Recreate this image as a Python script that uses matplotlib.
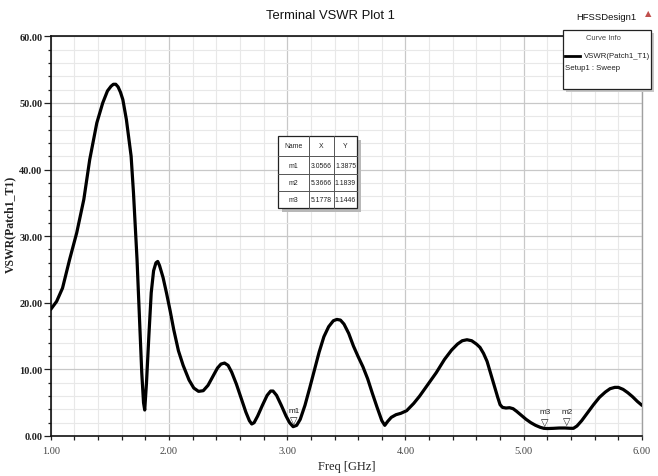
import matplotlib
matplotlib.use("Agg")
import matplotlib.pyplot as plt
from matplotlib import font_manager
from matplotlib.ticker import MultipleLocator, FormatStrFormatter
from matplotlib.patches import Rectangle

# ---------------- data ----------------
freq = [1.00, 1.05, 1.10, 1.16, 1.22, 1.28, 1.33, 1.39, 1.44, 1.48, 1.51, 1.53,
        1.55, 1.57, 1.59, 1.61, 1.64, 1.68, 1.70, 1.73, 1.75, 1.77, 1.785, 1.795,
        1.81, 1.83, 1.85, 1.87, 1.89, 1.905, 1.92, 1.95, 1.98, 2.01, 2.04, 2.08,
        2.12, 2.17, 2.21, 2.25, 2.29, 2.33, 2.37, 2.41, 2.44, 2.47, 2.50, 2.53,
        2.57, 2.61, 2.65, 2.68, 2.70, 2.72, 2.75, 2.79, 2.83, 2.86, 2.88, 2.91,
        2.95, 2.99, 3.02, 3.05, 3.08, 3.11, 3.15, 3.19, 3.23, 3.27, 3.31, 3.35,
        3.39, 3.42, 3.45, 3.48, 3.52, 3.56, 3.60, 3.64, 3.68, 3.72, 3.76, 3.80,
        3.825, 3.85, 3.88, 3.92, 3.96, 4.01, 4.07, 4.12, 4.20, 4.26, 4.33, 4.39,
        4.44, 4.48, 4.52, 4.56, 4.60, 4.63, 4.66, 4.69, 4.72, 4.75, 4.78, 4.80,
        4.82, 4.85, 4.88, 4.91, 4.94, 4.98, 5.02, 5.06, 5.10, 5.14, 5.17, 5.20,
        5.25, 5.30, 5.35, 5.39, 5.42, 5.45, 5.49, 5.54, 5.59, 5.64, 5.69, 5.73,
        5.77, 5.80, 5.84, 5.88, 5.92, 5.96, 6.00]
vswr = [19.0, 20.2, 22.2, 26.5, 30.5, 35.5, 41.5, 47.0, 50.0, 51.8, 52.5, 52.8,
        52.8, 52.4, 51.6, 50.5, 47.5, 42.0, 36.5, 26.5, 18.0, 9.5, 5.0, 3.9,
        8.0, 15.0, 21.5, 24.8, 26.0, 26.2, 25.6, 23.8, 21.4, 18.8, 16.0, 12.8,
        10.6, 8.4, 7.2, 6.7, 6.8, 7.6, 8.9, 10.2, 10.8, 10.95, 10.6, 9.6,
        7.8, 5.7, 3.6, 2.3, 1.8, 2.0, 3.0, 4.6, 6.1, 6.75, 6.75, 6.1,
        4.6, 3.0, 2.0, 1.4, 1.6, 2.5, 4.6, 7.2, 9.9, 12.6, 14.9, 16.4,
        17.3, 17.5, 17.4, 16.8, 15.4, 13.5, 11.9, 10.4, 8.6, 6.4, 4.3, 2.3,
        1.6, 2.2, 2.8, 3.2, 3.4, 3.8, 4.9, 6.0, 8.0, 9.5, 11.5, 12.9,
        13.8, 14.3, 14.45, 14.3, 13.8, 13.3, 12.4, 11.2, 9.4, 7.6, 5.8, 4.7,
        4.3, 4.2, 4.25, 4.1, 3.7, 3.1, 2.5, 2.0, 1.6, 1.3, 1.15, 1.12,
        1.15, 1.2, 1.2, 1.16, 1.15, 1.5, 2.3, 3.5, 4.7, 5.8, 6.6, 7.1,
        7.3, 7.3, 7.0, 6.5, 5.9, 5.2, 4.6]

marker_names = ["m1", "m2", "m3"]
marker_x = [3.0566, 5.3666, 5.1778]
marker_y = [1.3875, 1.1839, 1.1446]

title = "Terminal VSWR Plot 1"
design = "HFSSDesign1"
curve_name = "VSWR(Patch1_T1)"
setup_name = "Setup1 : Sweep"

# ---------------- fonts ----------------
names = {f.name for f in font_manager.fontManager.ttflist}
narrow = "Liberation Sans Narrow" if "Liberation Sans Narrow" in names else "Liberation Sans"
nscale = 1.0 if narrow == "Liberation Sans Narrow" else 0.85
serif = "Liberation Serif"

fig = plt.figure(figsize=(6.58, 4.77), dpi=100)
ax = fig.add_axes([50.7 / 658, 40 / 477, (642 - 50.7) / 658, (437 - 37.3) / 477])

ax.plot(freq, vswr, color="black", lw=2.3, solid_joinstyle="round",
        solid_capstyle="round", zorder=3)

ax.set_xlim(1.0, 6.0)
ax.set_ylim(0.0, 60.0)
ax.xaxis.set_major_locator(MultipleLocator(1.0))
ax.xaxis.set_minor_locator(MultipleLocator(0.2))
ax.yaxis.set_major_locator(MultipleLocator(10.0))
ax.yaxis.set_minor_locator(MultipleLocator(2.0))
ax.xaxis.set_major_formatter(FormatStrFormatter("%.2f"))
ax.yaxis.set_major_formatter(FormatStrFormatter("%.2f"))

ax.grid(which="major", color="#c8c8c8", lw=0.9, zorder=0)
ax.grid(which="minor", color="#e8e8e8", lw=0.8, zorder=0)
ax.set_axisbelow(True)

ax.tick_params(axis="both", which="both", direction="out", color="#222222", width=0.9)
ax.tick_params(axis="y", which="major", length=5, pad=1)
ax.tick_params(axis="y", which="minor", length=2.5)
ax.tick_params(axis="x", which="major", length=3, pad=4)
ax.tick_params(axis="x", which="minor", length=3)
ax.tick_params(top=False, right=False)

for lab in ax.get_yticklabels():
    lab.set_fontfamily(serif)
    lab.set_fontweight("bold")
    lab.set_fontsize(7.5)
    lab.set_color("#222222")
for lab in ax.get_xticklabels():
    lab.set_fontfamily(serif)
    lab.set_fontsize(7.5)
    lab.set_color("#444444")

for s in ["left", "bottom", "top"]:
    ax.spines[s].set_color("#111111")
    ax.spines[s].set_linewidth(1.2)
ax.spines["right"].set_color("#a0a0a0")
ax.spines["right"].set_linewidth(1.0)

ax.set_xlabel("Freq [GHz]", fontfamily=serif, fontsize=9, color="#222222", labelpad=4)
fig.text(10 / 658, 1 - 224 / 477, curve_name, rotation=90, ha="center", va="center",
         fontfamily=serif, fontweight="bold", fontsize=8.5, color="#222222")

# title and design name
fig.text(330 / 658, 1 - 16 / 477, title, ha="center", va="center",
         fontfamily=narrow, fontsize=11 * nscale, color="#111111")
fig.text(606 / 658, 1 - 17 / 477, design, ha="center", va="center",
         fontfamily=narrow, fontsize=8 * nscale, color="#111111")
fig.text(648 / 658, 1 - 14 / 477, "\u25B2", ha="center", va="center",
         fontfamily="DejaVu Sans", fontsize=6, color="#c0504d")

# markers on the curve
for n, mx, my in zip(marker_names, marker_x, marker_y):
    ax.annotate("\u25BD", (mx, my), xytext=(0, 5), textcoords="offset points",
                ha="center", va="center", fontsize=7, fontfamily="DejaVu Sans",
                color="#222222", zorder=5)
    ax.annotate(n, (mx, my), xytext=(0, 12), textcoords="offset points",
                ha="center", va="center", fontsize=6 * nscale + 0.8,
                fontfamily=narrow, color="#222222", zorder=5)

# marker table (figure pixel coordinates)
def px(x, y):
    return x / 658, 1 - y / 477

tx0, tx1, ty0, ty1 = 278, 357, 137, 209
col_x = [278, 309, 334, 357]
row_y = [137, 157, 175, 192, 209]
fig.patches.append(Rectangle(px(tx0 + 4, ty1 + 4), (tx1 - tx0) / 658, (ty1 - ty0) / 477,
                             transform=fig.transFigure, facecolor="#b8b8b8",
                             edgecolor="none", zorder=6))
fig.patches.append(Rectangle(px(tx0, ty1), (tx1 - tx0) / 658, (ty1 - ty0) / 477,
                             transform=fig.transFigure, facecolor="white",
                             edgecolor="#222222", lw=0.9, zorder=7))
for cx in col_x[1:-1]:
    fig.add_artist(plt.Line2D([cx / 658, cx / 658], [1 - ty0 / 477, 1 - ty1 / 477],
                              transform=fig.transFigure, color="#555555", lw=0.7, zorder=8))
for ry in row_y[1:-1]:
    fig.add_artist(plt.Line2D([tx0 / 658, tx1 / 658], [1 - ry / 477, 1 - ry / 477],
                              transform=fig.transFigure, color="#555555", lw=0.7, zorder=8))
table_rows = [["Name", "X", "Y"]] + [[n, "%.4f" % x, "%.4f" % y]
                                     for n, x, y in zip(marker_names, marker_x, marker_y)]
for r, row in enumerate(table_rows):
    yc = (row_y[r] + row_y[r + 1]) / 2
    for c, val in enumerate(row):
        xc = (col_x[c] + col_x[c + 1]) / 2
        fig.text(xc / 658, 1 - yc / 477, val, ha="center", va="center",
                 fontfamily=narrow, fontsize=5.5 * nscale + 0.3, color="#222222", zorder=9)

# Curve info legend box
lx0, lx1, ly0, ly1 = 563, 651, 31, 90
fig.patches.append(Rectangle(px(lx0 + 3, ly1 + 3), (lx1 - lx0) / 658, (ly1 - ly0) / 477,
                             transform=fig.transFigure, facecolor="#c8c8c8",
                             edgecolor="none", zorder=6))
fig.patches.append(Rectangle(px(lx0, ly1), (lx1 - lx0) / 658, (ly1 - ly0) / 477,
                             transform=fig.transFigure, facecolor="white",
                             edgecolor="#222222", lw=0.9, zorder=7))
fig.text(603 / 658, 1 - 39 / 477, "Curve Info", ha="center", va="center",
         fontfamily=narrow, fontsize=6 * nscale + 0.3, color="#444444", zorder=9)
fig.add_artist(plt.Line2D([565 / 658, 580 / 658], [1 - 57 / 477, 1 - 57 / 477],
                          transform=fig.transFigure, color="black", lw=2.0, zorder=9))
fig.text(584 / 658, 1 - 57 / 477, curve_name, ha="left", va="center",
         fontfamily=narrow, fontsize=6 * nscale + 0.5, color="#222222", zorder=9)
fig.text(565 / 658, 1 - 69 / 477, setup_name, ha="left", va="center",
         fontfamily=narrow, fontsize=6 * nscale + 0.5, color="#222222", zorder=9)

fig.savefig("out.png", dpi=100, facecolor="white")
